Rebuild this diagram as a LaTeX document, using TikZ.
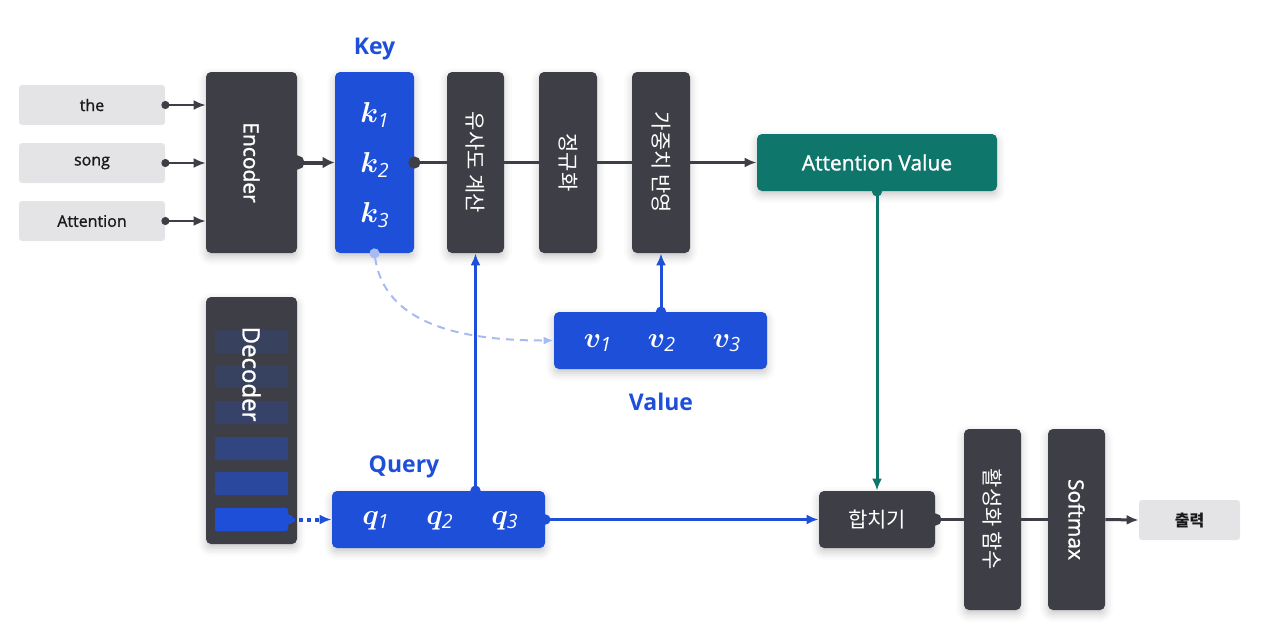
\documentclass[tikz,border=0pt]{standalone}
\usepackage{fontspec}
\usepackage{bm}
\setmainfont{Open Sans}
\newfontfamily\medfont[FakeBold=1.2]{Open Sans}
\newfontfamily\kr{Noto Sans CJK KR}
\usetikzlibrary{arrows.meta,positioning,shadows.blur}

\definecolor{boxgray}{HTML}{3E3F46}
\definecolor{ingray}{HTML}{E4E4E7}
\definecolor{keyblue}{HTML}{1E4FD8}
\definecolor{attteal}{HTML}{0F766C}
\definecolor{dashblue}{HTML}{A7BBF2}

\tikzset{
    soft shadow/.style={blur shadow={shadow xshift=0pt, shadow yshift=-2pt,
        shadow blur radius=4pt, shadow opacity=22}},
    inbox/.style={fill=ingray, rounded corners=1.5pt, inner sep=0pt, text=black!90,
        minimum width=73pt, minimum height=20pt, font=\medfont\fontsize{8}{10}\selectfont},
    darkbox/.style={fill=boxgray, rounded corners=2.5pt, inner sep=0pt, text=white,
        soft shadow, font=\medfont\fontsize{10.5}{12}\selectfont},
    tallbox/.style={darkbox, minimum width=28.5pt, minimum height=90.5pt},
    bluebox/.style={fill=keyblue, rounded corners=2.5pt, inner sep=0pt, soft shadow},
    vec/.style={text=white, inner sep=0pt, font=\fontsize{14}{16}\selectfont},
    lbl/.style={text=keyblue, inner sep=0pt, anchor=base,
        font=\bfseries\fontsize{11.5}{13}\selectfont},
    cell/.style={fill=keyblue, rounded corners=1pt, inner sep=0pt,
        minimum width=36.5pt, minimum height=11.5pt},
    flow/.style={draw=#1, line width=1.5pt},
}

\begin{document}
\begin{tikzpicture}[x=0.5pt, y=-0.5pt, >={Latex[length=6pt,width=5pt]}]
    \useasboundingbox (0,0) rectangle (1261,628);
    % 입력 단어
    \node[inbox] (w1) at (92,105) {the};
    \node[inbox] (w2) at (92,163) {song};
    \node[inbox] (w3) at (92,221) {Attention};
    % 인코더, Key
    \node[tallbox, minimum width=45.5pt] (enc) at (251.5,162.5) {\rotatebox{-90}{Encoder}};
    \node[bluebox, minimum width=39.5pt, minimum height=90.5pt] (key) at (374.5,162.5) {};
    \node[vec] (k1) at (375,115) {$\bm{k}_{\mathit{1}}$};
    \node[vec] (k2) at (375,165) {$\bm{k}_{\mathit{2}}$};
    \node[vec] (k3) at (375,215) {$\bm{k}_{\mathit{3}}$};
    \node[lbl] (keylbl) at (374.5,54) {Key};
    % 어텐션 단계
    \node[tallbox] (sim) at (475.5,162.5) {\rotatebox{-90}{\kr 유사도 계산}};
    \node[tallbox, minimum width=29pt] (norm) at (568,162.5) {\rotatebox{-90}{\kr 정규화}};
    \node[tallbox, minimum width=29pt] (wgt) at (661,162.5) {\rotatebox{-90}{\kr 가중치 반영}};
    \node[darkbox, fill=attteal, minimum width=120pt, minimum height=28.5pt] (attv) at (877,162.5) {Attention Value};
    % 디코더
    \node[darkbox, minimum width=45.5pt, minimum height=123.5pt] (dec) at (251.5,420.5) {};
    \foreach \i/\yy/\op in {1/341.5/0.16, 2/376.5/0.19, 3/412.5/0.24, 4/448.5/0.4, 5/483.5/0.6, 6/519.5/1}
        \node[cell, fill opacity=\op] (c\i) at (251.5,\yy) {};
    \node[rotate=-90, text=white, inner sep=0pt, font=\medfont\fontsize{12}{14}\selectfont] (dectxt) at (251.5,374) {Decoder};
    % Query, Value
    \node[bluebox, minimum width=106.5pt, minimum height=28.5pt] (query) at (438.5,519.5) {};
    \node[vec] (q1) at (376,521) {$\bm{q}_{\mathit{1}}$};
    \node[vec] (q2) at (440,521) {$\bm{q}_{\mathit{2}}$};
    \node[vec] (q3) at (505,521) {$\bm{q}_{\mathit{3}}$};
    \node[lbl] (querylbl) at (404,472) {Query};
    \node[bluebox, minimum width=106.5pt, minimum height=28.5pt] (value) at (660.5,340.5) {};
    \node[vec] (v1) at (598,343) {$\bm{v}_{\mathit{1}}$};
    \node[vec] (v2) at (662,343) {$\bm{v}_{\mathit{2}}$};
    \node[vec] (v3) at (727,343) {$\bm{v}_{\mathit{3}}$};
    \node[lbl] (valuelbl) at (661,410) {Value};
    % 출력 단계
    \node[darkbox, minimum width=58pt, minimum height=28.5pt] (comb) at (877,519.5) {\kr 합치기};
    \node[tallbox] (act) at (992.5,519.5) {\rotatebox{-90}{\kr 활성화 함수}};
    \node[tallbox] (soft) at (1076.5,519.5) {\rotatebox{-90}{Softmax}};
    \node[inbox, minimum width=50.5pt, font=\kr\bfseries\fontsize{8}{10}\selectfont] (out) at (1189.5,520) {출력};

    % 연결선
    \foreach \w in {w1,w2,w3}
        \draw[draw=boxgray, line width=1pt, {Circle[length=4pt]}->, shorten <=-2pt] (\w.east) -- (\w.east -| enc.west);
    \draw[draw=boxgray, line width=2pt, {Circle[length=7pt]}-{Latex[length=6pt,width=6pt]}, shorten <=-3.5pt] (enc.east) -- (key.west);
    \draw[flow=boxgray, {Circle[length=6pt]}-, shorten <=-3pt] (key.east) -- (sim.west);
    \draw[flow=boxgray] (sim.east) -- (norm.west);
    \draw[flow=boxgray] (norm.east) -- (wgt.west);
    \draw[flow=boxgray, ->] (wgt.east) -- (attv.west);
    \draw[flow=attteal, {Circle[length=5pt]}->, shorten <=-2.5pt] (attv.south) -- (comb.north);
    \draw[draw=dashblue, line width=1pt, dash pattern=on 4pt off 3pt, {Circle[length=5pt]}-{Latex[length=5pt,width=4pt]}, shorten <=-2.5pt]
        (key.south) to[out=-82, in=180] (value.west);
    \draw[flow=keyblue, {Circle[length=5pt]}->, shorten <=-2.5pt] (sim.south |- query.north) -- (sim.south);
    \draw[flow=keyblue, {Circle[length=5pt]}->, shorten <=-2.5pt] (wgt.south |- value.north) -- (wgt.south);
    \draw[flow=keyblue, {Circle[length=5pt]}->, shorten <=-2.5pt] (query.east) -- (comb.west);
    \draw[draw=keyblue, line width=2pt, dash pattern=on 2pt off 2pt, {Circle[length=5pt]}->, shorten <=-2.5pt] (c6.east) -- (query.west);
    \draw[flow=boxgray, {Circle[length=6pt]}-, shorten <=-3pt] (comb.east) -- (act.west);
    \draw[flow=boxgray] (act.east) -- (soft.west);
    \draw[flow=boxgray, ->] (soft.east) -- (out.west);
\end{tikzpicture}
\end{document}
